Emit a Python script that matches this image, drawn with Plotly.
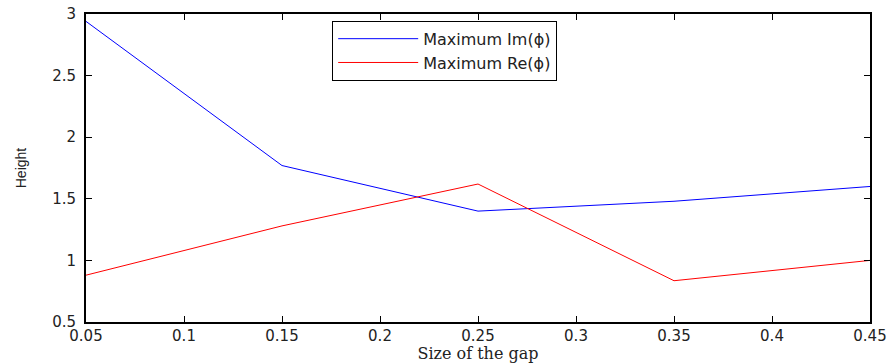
import plotly.graph_objects as go

gap = [0.05, 0.15, 0.25, 0.35, 0.45]
max_im = [2.94, 1.77, 1.40, 1.48, 1.60]
max_re = [0.88, 1.28, 1.62, 0.835, 1.00]

x_ticks = [0.05, 0.1, 0.15, 0.2, 0.25, 0.3, 0.35, 0.4, 0.45]
y_ticks = [0.5, 1, 1.5, 2, 2.5, 3]

fig = go.Figure()
fig.add_trace(go.Scatter(x=gap, y=max_im, mode="lines", name="Maximum Im(ϕ)",
                         line=dict(color="#0000ff", width=1)))
fig.add_trace(go.Scatter(x=gap, y=max_re, mode="lines", name="Maximum Re(ϕ)",
                         line=dict(color="#ff0000", width=1)))

axis_common = dict(showline=True, linecolor="black", linewidth=2, mirror="ticks",
                   ticks="inside", ticklen=6, tickcolor="black", tickwidth=1,
                   showgrid=False, zeroline=False, automargin=False,
                   tickfont=dict(family="DejaVu Sans", size=15, color="#222"))

fig.update_xaxes(range=[0.05, 0.45], tickvals=x_ticks,
                 ticktext=[f"{v:g}" for v in x_ticks],
                 ticklabelstandoff=-1,
                 title=dict(text="Size of the gap", standoff=0,
                            font=dict(family="DejaVu Serif", size=16, color="#222")),
                 **axis_common)
fig.update_yaxes(range=[0.5, 3], tickvals=y_ticks,
                 ticktext=[f"{v:g}" for v in y_ticks],
                 ticklabelstandoff=5,
                 title=dict(text="Height", standoff=22,
                            font=dict(family="Liberation Sans", size=14, color="#222")),
                 **axis_common)

fig.update_layout(
    width=891, height=363,
    margin=dict(l=86, r=21, t=14, b=41),
    plot_bgcolor="white", paper_bgcolor="white",
    showlegend=True,
    legend=dict(x=0.314, y=0.978, xanchor="left", yanchor="top",
                bgcolor="white", bordercolor="black", borderwidth=1,
                font=dict(family="DejaVu Sans", size=16, color="#222"),
                tracegroupgap=0, itemwidth=80),
)

fig.write_html("out.html")
